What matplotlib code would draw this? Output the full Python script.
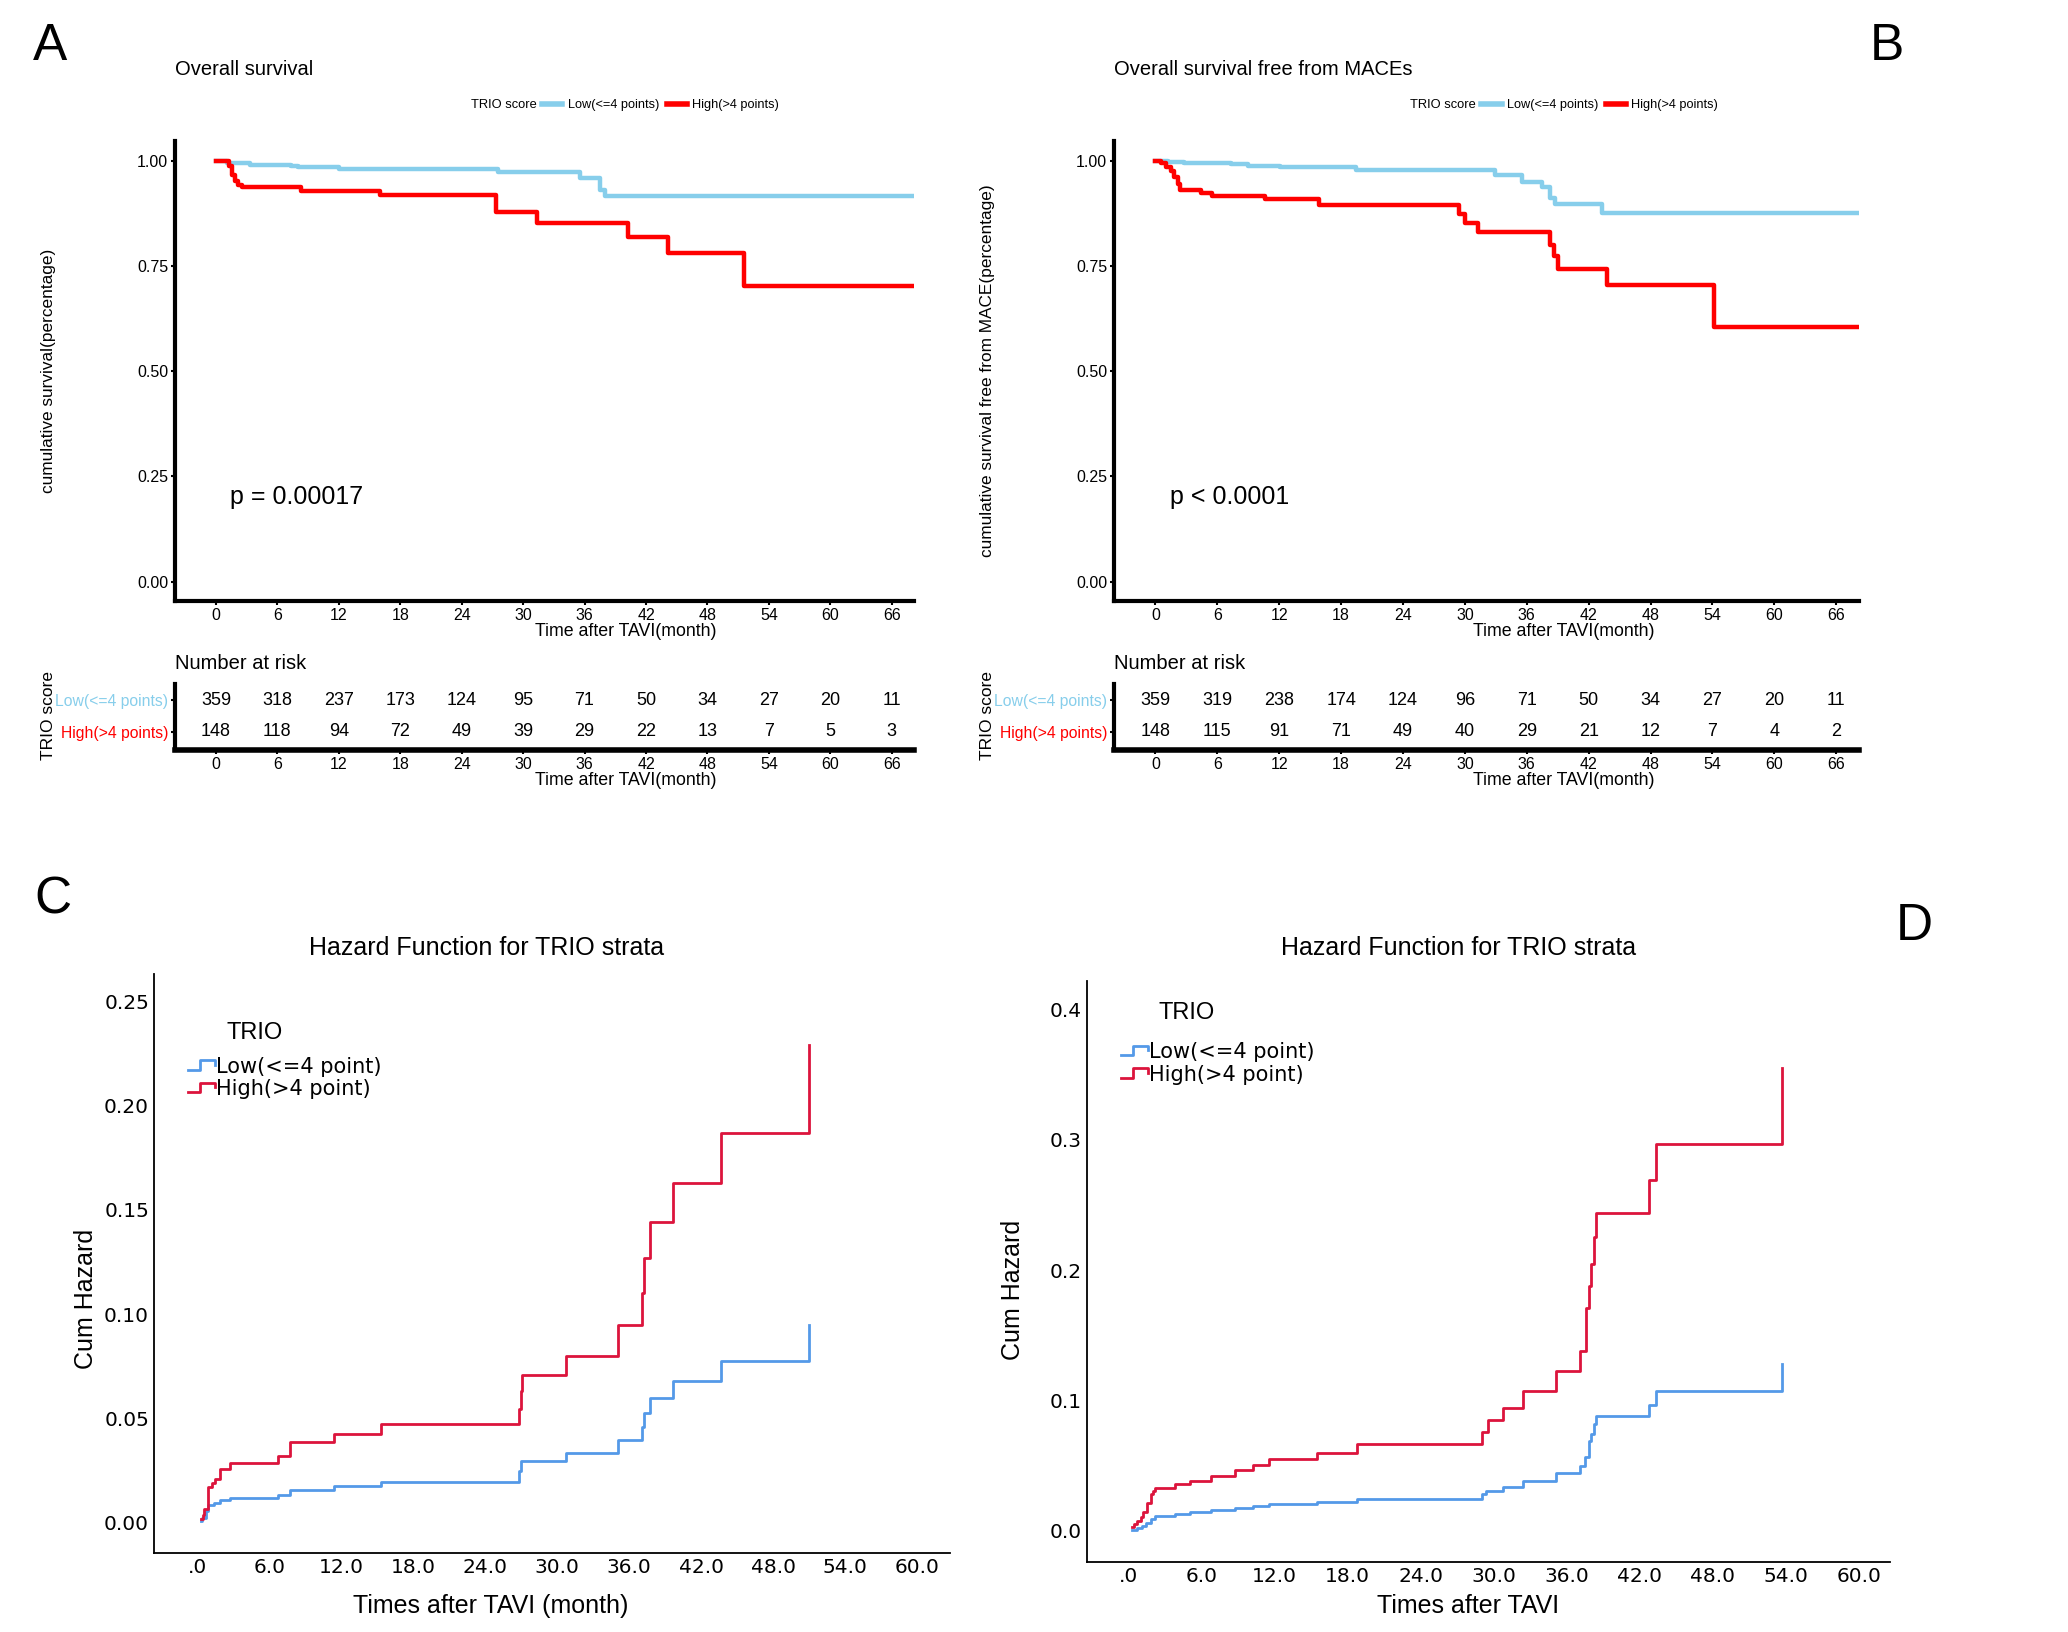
import matplotlib
matplotlib.use("Agg")
import matplotlib.pyplot as plt
from matplotlib.lines import Line2D
from matplotlib.legend_handler import HandlerBase

NARROW = ['Liberation Sans Narrow', 'Liberation Sans', 'DejaVu Sans']
ARIAL = ['Liberation Sans', 'DejaVu Sans']
SPSS = ['DejaVu Sans']
plt.rcParams['font.family'] = ARIAL

# ---- KM data (panel A: overall survival) ----
A_low_t = [0, 1.1, 3.3, 7.3, 8.0, 12.0, 27.5, 35.6, 37.5, 38.0, 68.2]
A_low_s = [1.0, 0.995, 0.990, 0.988, 0.984, 0.980, 0.972, 0.958, 0.930, 0.916, 0.916]
A_high_t = [0, 1.3, 1.6, 1.9, 2.2, 2.5, 8.3, 16.0, 27.4, 31.4, 40.2, 44.1, 51.6, 68.2]
A_high_s = [1.0, 0.987, 0.965, 0.952, 0.943, 0.937, 0.929, 0.919, 0.877, 0.853, 0.818, 0.780, 0.702, 0.702]

# ---- KM data (panel B: free from MACEs) ----
B_low_t = [0, 1.2, 2.8, 7.3, 9.0, 12.1, 19.4, 32.9, 35.5, 37.5, 38.3, 38.7, 43.3, 68.2]
B_low_s = [1.0, 0.997, 0.994, 0.992, 0.988, 0.985, 0.977, 0.965, 0.950, 0.937, 0.912, 0.896, 0.875, 0.875]
B_high_t = [0, 0.5, 1.0, 1.5, 1.8, 2.2, 2.4, 4.4, 5.5, 10.6, 15.9, 29.4, 30.0, 31.3, 38.3, 38.6, 39.0, 43.8, 54.2, 68.2]
B_high_s = [1.0, 0.995, 0.985, 0.975, 0.960, 0.945, 0.930, 0.924, 0.917, 0.908, 0.895, 0.874, 0.853, 0.830,
            0.800, 0.773, 0.743, 0.705, 0.606, 0.606]

# ---- numbers at risk ----
risk_times = [0, 6, 12, 18, 24, 30, 36, 42, 48, 54, 60, 66]
A_risk_low = [359, 318, 237, 173, 124, 95, 71, 50, 34, 27, 20, 11]
A_risk_high = [148, 118, 94, 72, 49, 39, 29, 22, 13, 7, 5, 3]
B_risk_low = [359, 319, 238, 174, 124, 96, 71, 50, 34, 27, 20, 11]
B_risk_high = [148, 115, 91, 71, 49, 40, 29, 21, 12, 7, 4, 2]

# ---- cumulative hazard (panel C) ----
C_low_t = [0.3, 0.4, 0.7, 0.9, 1.4, 1.9, 2.75, 6.7, 7.7, 11.4, 15.3, 26.8, 27.0, 30.7, 35.1, 37.1, 37.2,
           37.7, 39.6, 43.6, 51.0]
C_low_h = [0.001, 0.0024, 0.0056, 0.0085, 0.0097, 0.011, 0.012, 0.0133, 0.0157, 0.0174, 0.0194, 0.025,
           0.0296, 0.0334, 0.0395, 0.046, 0.0526, 0.0598, 0.0678, 0.0775, 0.095]
C_high_t = [0.3, 0.45, 0.6, 0.9, 1.2, 1.5, 1.9, 2.75, 6.7, 7.7, 11.4, 15.3, 26.8, 26.95, 27.1, 30.7, 35.1,
            37.1, 37.2, 37.7, 39.6, 43.6, 51.0]
C_high_h = [0.002, 0.0036, 0.0068, 0.017, 0.019, 0.021, 0.026, 0.0286, 0.032, 0.0388, 0.0426, 0.0475, 0.0545,
            0.063, 0.0707, 0.080, 0.095, 0.110, 0.127, 0.144, 0.163, 0.187, 0.229]

# ---- cumulative hazard (panel D) ----
D_low_t = [0.27, 0.7, 1.1, 1.4, 1.8, 2.2, 3.8, 5.0, 6.8, 8.7, 10.2, 11.5, 15.5, 18.8, 29.0, 29.4, 30.8, 32.4,
           35.1, 37.1, 37.5, 37.8, 38.0, 38.2, 38.4, 42.8, 43.3, 53.7]
D_low_h = [0.001, 0.0023, 0.0039, 0.006, 0.0089, 0.0116, 0.0131, 0.0146, 0.0162, 0.0177, 0.0189, 0.0204,
           0.022, 0.0243, 0.028, 0.031, 0.034, 0.0386, 0.0447, 0.050, 0.057, 0.0686, 0.0744, 0.082, 0.088,
           0.0967, 0.107, 0.128]
D_high_t = [0.27, 0.45, 0.7, 1.0, 1.2, 1.5, 1.8, 2.0, 2.2, 3.8, 5.0, 6.8, 8.7, 10.2, 11.5, 15.5, 18.8, 29.0,
            29.5, 30.8, 32.4, 35.1, 37.1, 37.6, 37.8, 38.0, 38.2, 38.4, 42.8, 43.3, 53.7]
D_high_h = [0.003, 0.005, 0.0077, 0.0108, 0.0146, 0.0216, 0.028, 0.031, 0.033, 0.0358, 0.0385, 0.0424, 0.047,
            0.0509, 0.0551, 0.060, 0.0663, 0.0755, 0.0848, 0.0944, 0.107, 0.1225, 0.138, 0.171, 0.188, 0.205,
            0.225, 0.244, 0.269, 0.297, 0.355]

km_ticks = [0, 6, 12, 18, 24, 30, 36, 42, 48, 54, 60, 66]
hz_ticks = [0, 6, 12, 18, 24, 30, 36, 42, 48, 54, 60]
hz_ticklabels = ['.0', '6.0', '12.0', '18.0', '24.0', '30.0', '36.0', '42.0', '48.0', '54.0', '60.0']

SKY = '#87CEEB'
RED = '#FF0000'
HZ_BLUE = '#5499E8'
HZ_RED = '#DC143C'

# layout is measured on a 1572 x 1240 grid
W, H = 1572.0, 1240.0
fig = plt.figure(figsize=(20.68, 16.32), dpi=100)


def box(l, t, r, b):
    return [l / W, 1 - b / H, (r - l) / W, (b - t) / H]


def ftext(x, y, s, **kw):
    fig.text(x / W, 1 - y / H, s, **kw)


class StepHandler(HandlerBase):
    # SPSS-style step glyph for the legend
    def create_artists(self, legend, orig_handle, xdescent, ydescent, width, height, fontsize, trans):
        x0 = -xdescent
        xs = [x0, x0 + 0.45 * width, x0 + 0.45 * width, x0 + width, x0 + width]
        ys = [0.2 * height, 0.2 * height, 0.85 * height, 0.85 * height, 0.55 * height]
        ln = Line2D(xs, ys, color=orig_handle.get_color(), lw=orig_handle.get_linewidth(), transform=trans)
        return [ln]


def km_panel(l, r, low_t, low_s, high_t, high_s, title, ylabel, ptext, leg_x, xl_x, letter, letter_x,
             risk_low, risk_high):
    ax = fig.add_axes(box(l, 107, r, 457))
    ax.step(low_t, low_s, where='post', color=SKY, lw=3.2)
    ax.step(high_t, high_s, where='post', color=RED, lw=3.2)
    ax.set_xlim(-4, 68.2)
    ax.set_ylim(-0.047, 1.047)
    ax.set_xticks(km_ticks)
    ax.set_yticks([0, 0.25, 0.5, 0.75, 1.0])
    ax.set_yticklabels(['0.00', '0.25', '0.50', '0.75', '1.00'])
    for lab in ax.get_xticklabels() + ax.get_yticklabels():
        lab.set_family(NARROW)
        lab.set_fontsize(11.5)
    ax.tick_params(length=3, width=1.5, pad=2)
    for s in ['top', 'right']:
        ax.spines[s].set_visible(False)
    for s in ['left', 'bottom']:
        ax.spines[s].set_linewidth(3)
    ax.text(1.4, 0.2, ptext, family=NARROW, fontsize=18, va='center')

    ftext(l, 53, title, family=NARROW, fontsize=14.5, va='center')
    ftext(leg_x, 80, 'TRIO score', family=NARROW, fontsize=9.3, va='center', ha='right')
    handles = [Line2D([], [], color=SKY, lw=4), Line2D([], [], color=RED, lw=4)]
    fig.legend(handles, ['Low(<=4 points)', 'High(>4 points)'], ncol=2, frameon=False,
               loc='center left', bbox_to_anchor=((leg_x + 4) / W, 1 - 80 / H),
               prop={'family': NARROW, 'size': 9.2}, handlelength=1.6, handletextpad=0.4,
               columnspacing=0.6, borderpad=0, borderaxespad=0)
    ftext(xl_x, 480, 'Time after TAVI(month)', family=NARROW, fontsize=12.8, ha='center', va='center')
    ftext(letter_x, 35, letter, fontsize=37, ha='left', va='center')
    ftext(l - 96, 282, ylabel, fontsize=12.4, rotation=90, ha='center', va='center')

    # risk table
    tb = fig.add_axes(box(l, 520, r, 570))
    tb.set_xlim(-4, 68.2)
    tb.set_ylim(-0.583, 1.5)
    for x, n in zip(risk_times, risk_low):
        tb.text(x, 1, str(n), ha='center', va='center', family=NARROW, fontsize=13)
    for x, n in zip(risk_times, risk_high):
        tb.text(x, 0, str(n), ha='center', va='center', family=NARROW, fontsize=13)
    tb.set_xticks(km_ticks)
    tb.set_yticks([1, 0])
    tb.set_yticklabels(['Low(<=4 points)', 'High(>4 points)'])
    for lab, c in zip(tb.get_yticklabels(), [SKY, RED]):
        lab.set_color(c)
        lab.set_family(NARROW)
        lab.set_fontsize(11.3)
    for lab in tb.get_xticklabels():
        lab.set_family(NARROW)
        lab.set_fontsize(11.5)
    tb.tick_params(length=3, width=1.5, pad=2)
    for s in ['top', 'right']:
        tb.spines[s].set_visible(False)
    tb.spines['left'].set_linewidth(3)
    tb.spines['bottom'].set_linewidth(4)
    ftext(l, 504, 'Number at risk', family=NARROW, fontsize=14.5, va='center')
    ftext(xl_x, 593, 'Time after TAVI(month)', family=NARROW, fontsize=12.8, ha='center', va='center')
    ftext(l - 96, 544, 'TRIO score', fontsize=12.5, rotation=90, ha='center', va='center')


km_panel(133, 695, A_low_t, A_low_s, A_high_t, A_high_s, 'Overall survival',
         'cumulative survival(percentage)', 'p = 0.00017', 408, 476, 'A', 25, A_risk_low, A_risk_high)
km_panel(847, 1413, B_low_t, B_low_s, B_high_t, B_high_s, 'Overall survival free from MACEs',
         'cumulative survival free from MACE(percentage)', 'p < 0.0001', 1122, 1189, 'B', 1421,
         B_risk_low, B_risk_high)


def hz_panel(rect, xlim, ylim, yticks, ylabels, low_t, low_h, high_t, high_h, title_x, xlabel, xl_x,
             ylab_x, ylab_y, trio_y, leg_y):
    ax = fig.add_axes(box(*rect))
    ax.step(low_t, low_h, where='post', color=HZ_BLUE, lw=2)
    ax.step(high_t, high_h, where='post', color=HZ_RED, lw=2)
    ax.set_xlim(*xlim)
    ax.set_ylim(*ylim)
    ax.set_xticks(hz_ticks)
    ax.set_xticklabels(hz_ticklabels)
    ax.set_yticks(yticks)
    ax.set_yticklabels(ylabels)
    for lab in ax.get_xticklabels() + ax.get_yticklabels():
        lab.set_family(SPSS)
        lab.set_fontsize(14.5)
    ax.tick_params(length=0, pad=3.5)
    for s in ['top', 'right']:
        ax.spines[s].set_visible(False)
    for s in ['left', 'bottom']:
        ax.spines[s].set_linewidth(1.3)
    l, t, r, b = rect
    ftext(title_x, 720, 'Hazard Function for TRIO strata', family=NARROW, fontsize=18, ha='center',
          va='center')
    ftext(xl_x, 1220, xlabel, family=NARROW, fontsize=18, ha='center', va='center')
    ftext(ylab_x, ylab_y, 'Cum Hazard', fontsize=18, rotation=90, ha='center', va='center')
    ftext(l + 55, trio_y, 'TRIO', family=NARROW, fontsize=17, va='center')
    handles = [Line2D([], [], color=HZ_BLUE, lw=2), Line2D([], [], color=HZ_RED, lw=2)]
    fig.legend(handles, ['Low(<=4 point)', 'High(>4 point)'], frameon=False, loc='upper left',
               bbox_to_anchor=((l + 26) / W, 1 - leg_y / H), prop={'family': SPSS, 'size': 15},
               handler_map={Line2D: StepHandler()}, handlelength=1.3, handletextpad=0.05,
               labelspacing=0.12, borderpad=0, borderaxespad=0)


hz_panel((117, 740, 722, 1180), (-3.6, 62.7), (-0.0145, 0.263), [0, 0.05, 0.1, 0.15, 0.2, 0.25],
         ['0.00', '0.05', '0.10', '0.15', '0.20', '0.25'], C_low_t, C_low_h, C_high_t, C_high_h,
         370, 'Times after TAVI (month)', 373, 65, 987, 785, 803)
hz_panel((826, 745, 1437, 1187), (-3.46, 62.6), (-0.024, 0.422), [0, 0.1, 0.2, 0.3, 0.4],
         ['0.0', '0.1', '0.2', '0.3', '0.4'], D_low_t, D_low_h, D_high_t, D_high_h,
         1109, 'Times after TAVI', 1116, 770, 980, 770, 792)

ftext(26, 684, 'C', fontsize=37, va='center')
ftext(1441, 704, 'D', fontsize=37, va='center')

fig.savefig('out.png', dpi=100)
